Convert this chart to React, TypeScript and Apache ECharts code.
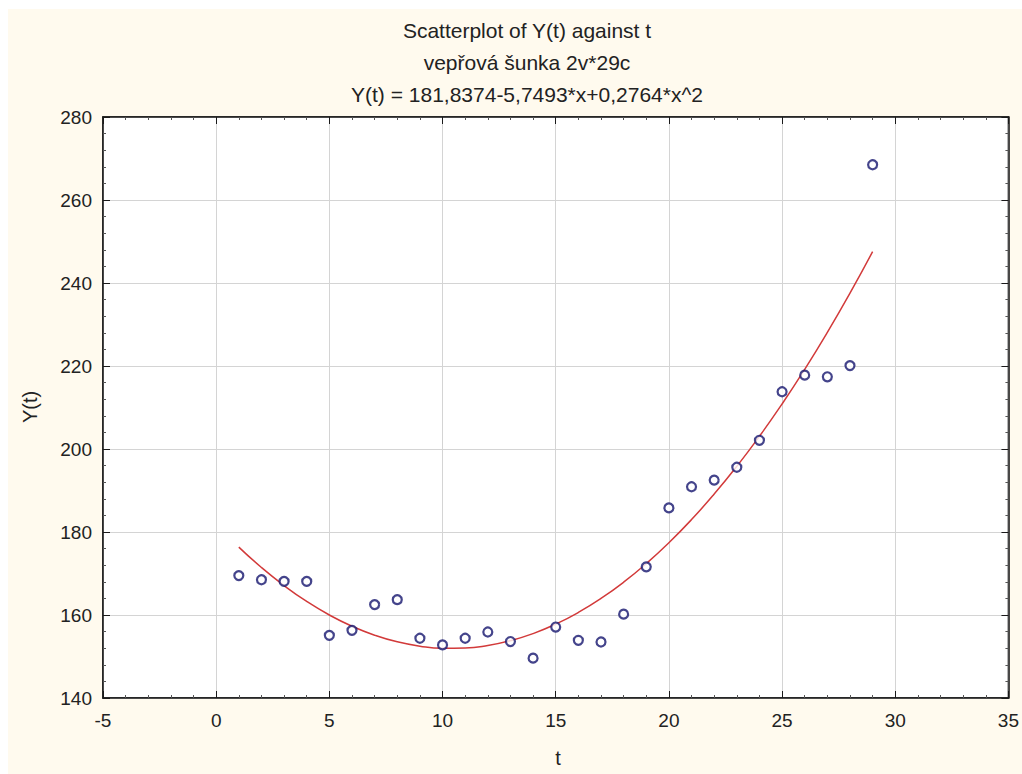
import React, { useEffect, useRef } from "react";
import * as echarts from "echarts";

const titleLines = [
  "Scatterplot of Y(t) against t",
  "vepřová šunka 2v*29c",
  "Y(t) = 181,8374-5,7493*x+0,2764*x^2",
];

const tValues = [1, 2, 3, 4, 5, 6, 7, 8, 9, 10, 11, 12, 13, 14, 15, 16, 17, 18, 19, 20, 21, 22, 23, 24, 25, 26, 27, 28, 29];

const yObserved = [
  169.5, 168.5, 168.1, 168.1, 155.1, 156.3, 162.5, 163.7, 154.4, 152.8,
  154.4, 155.9, 153.6, 149.6, 157.1, 153.9, 153.5, 160.2, 171.6, 185.8,
  190.9, 192.5, 195.6, 202.1, 213.8, 217.8, 217.4, 220.1, 268.5,
];

// fitted curve as drawn (values read at each t, agree with the printed equation)
const yFitted = [
  176.36, 171.44, 167.08, 163.26, 160.0, 157.29, 155.14, 153.53, 152.48, 151.98,
  152.04, 152.65, 153.81, 155.52, 157.79, 160.61, 163.98, 167.9, 172.38, 177.41,
  182.99, 189.13, 195.82, 203.06, 210.85, 219.2, 228.1, 237.55, 247.56,
];

const xTicks = { min: -5, max: 35, interval: 5 };
const yTicks = { min: 140, max: 280, interval: 20 };

const FONT = "Liberation Sans, Arial, sans-serif";

export default function App() {
  const ref = useRef<HTMLDivElement>(null);

  useEffect(() => {
    if (!ref.current) return;
    const chart = echarts.init(ref.current, undefined, { renderer: "svg" });

    const scatterData = tValues.map((t, i) => [t, yObserved[i]]);
    const fitData = tValues.map((t, i) => [t, yFitted[i]]);

    const axisLineStyle = { color: "#1a1a1a", width: 1.5 };
    const grid = { left: 95, top: 108, width: 910, height: 581 };

    const baseX = {
      type: "value" as const,
      min: xTicks.min,
      max: xTicks.max,
      interval: xTicks.interval,
      axisLine: { show: true, onZero: false, lineStyle: axisLineStyle },
      axisTick: { show: true, inside: true, length: 7, lineStyle: { color: "#1a1a1a", width: 1 } },
      minorTick: { show: true, splitNumber: 5, length: 3, lineStyle: { color: "#555", width: 1 } },
    };
    const baseY = {
      type: "value" as const,
      min: yTicks.min,
      max: yTicks.max,
      interval: yTicks.interval,
      axisLine: { show: true, onZero: false, lineStyle: axisLineStyle },
      axisTick: { show: true, inside: true, length: 7, lineStyle: { color: "#1a1a1a", width: 1 } },
      minorTick: { show: true, splitNumber: 5, length: 3, lineStyle: { color: "#555", width: 1 } },
    };

    chart.setOption({
      animation: false,
      backgroundColor: "#fffaee",
      grid: { ...grid, show: true, backgroundColor: "#ffffff", borderColor: "#1a1a1a", borderWidth: 1.5 },
      xAxis: [
        {
          ...baseX,
          position: "bottom",
          axisLabel: { show: true, fontSize: 19, color: "#222", fontFamily: FONT, margin: 13 },
          splitLine: { show: true, lineStyle: { color: "#d4d4d4", width: 1 } },
        },
        {
          ...baseX,
          position: "top",
          axisLabel: { show: false },
          splitLine: { show: false },
        },
      ],
      yAxis: [
        {
          ...baseY,
          position: "left",
          axisLabel: { show: true, fontSize: 19, color: "#222", fontFamily: FONT, margin: 11 },
          splitLine: { show: true, lineStyle: { color: "#d4d4d4", width: 1 } },
        },
        {
          ...baseY,
          position: "right",
          axisLabel: { show: false },
          splitLine: { show: false },
        },
      ],
      series: [
        {
          type: "line",
          data: fitData,
          xAxisIndex: 0,
          yAxisIndex: 0,
          smooth: true,
          showSymbol: false,
          symbol: "none",
          lineStyle: { color: "#d23a3a", width: 1.5 },
          z: 2,
        },
        {
          type: "scatter",
          data: scatterData,
          xAxisIndex: 0,
          yAxisIndex: 0,
          symbol: "circle",
          symbolSize: 9,
          itemStyle: { color: "#ffffff", borderColor: "#15156e", borderWidth: 2.2 },
          z: 3,
        },
      ],
      graphic: [
        ...titleLines.map((line, i) => ({
          type: "text",
          x: 519,
          y: 21 + i * 32,
          style: {
            text: line,
            fontSize: 21,
            fontFamily: FONT,
            fill: "#222",
            textAlign: "center",
            textVerticalAlign: "middle",
          },
        })),
        {
          type: "text",
          x: 550,
          y: 749,
          style: { text: "t", fontSize: 20, fontFamily: FONT, fill: "#222", textAlign: "center", textVerticalAlign: "middle" },
        },
        {
          type: "text",
          x: 22,
          y: 398,
          rotation: Math.PI / 2,
          style: { text: "Y(t)", fontSize: 20, fontFamily: FONT, fill: "#222", textAlign: "center", textVerticalAlign: "middle" },
        },
      ],
    });

    return () => chart.dispose();
  }, []);

  return (
    <div
      ref={ref}
      style={{ position: "absolute", left: 8, top: 9, width: 1014, height: 765 }}
    />
  );
}
